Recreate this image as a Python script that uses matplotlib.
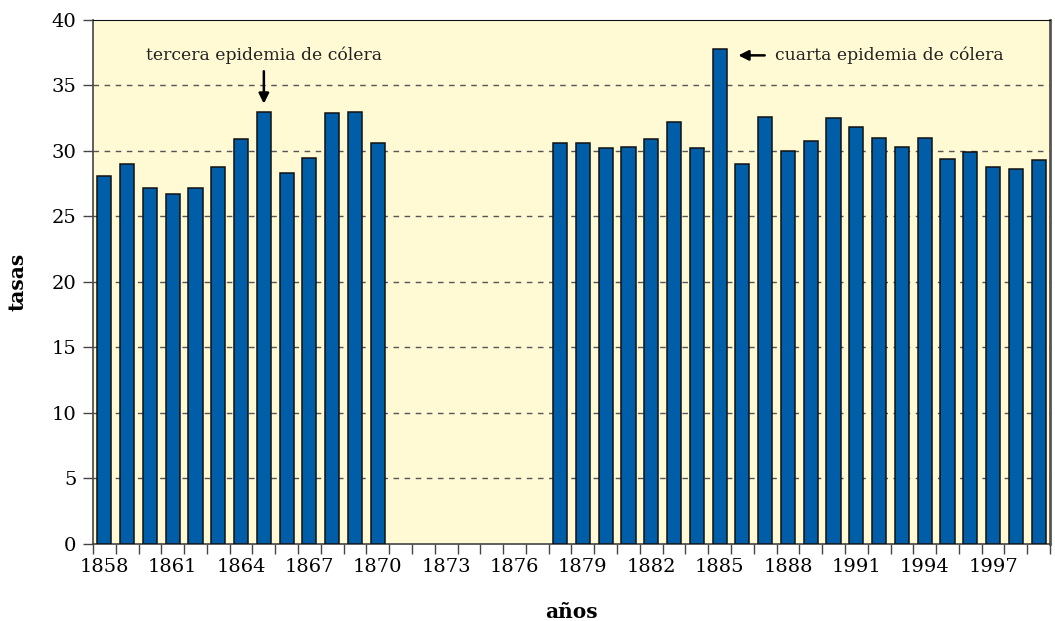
import matplotlib.pyplot as plt
import numpy as np

# datos: tasas por año (sin datos 1871-1877)
years = list(range(1858, 1900))
rates_a = [28.1, 29.0, 27.2, 26.7, 27.2, 28.8, 30.9, 33.0, 28.3, 29.5, 32.9, 33.0, 30.6]   # 1858-1870
rates_b = [30.6, 30.6, 30.2, 30.3, 30.9, 32.2, 30.2, 37.8, 29.0, 32.6, 30.0,
           30.8, 32.5, 31.8, 31.0, 30.3, 31.0, 29.4, 29.9, 28.8, 28.6, 29.3]             # 1878-1899
gap = [np.nan] * 7
rates = rates_a + gap + rates_b

# etiquetas cada 3 años (tal como aparecen en el original)
xlabels = ['1858', '1861', '1864', '1867', '1870', '1873', '1876', '1879',
           '1882', '1885', '1888', '1991', '1994', '1997']
yticks = [0, 5, 10, 15, 20, 25, 30, 35, 40]

serif = 'DejaVu Serif'
fig = plt.figure(figsize=(10.55, 6.21), dpi=100)
ax = fig.add_axes([0.0881, 0.124, 0.9072, 0.8438])
ax.set_facecolor('#fff9d4')

x = np.arange(len(years))
ax.bar(x, rates, width=0.62, color='#005ea8', edgecolor='#111111', linewidth=1.1, zorder=3)

ax.set_xlim(-0.5, len(years) - 0.5)
ax.set_ylim(0, 40)

# lineas de rejilla discontinuas
for v in yticks[1:-1]:
    ax.axhline(v, color='#555555', linestyle=(0, (4, 4)), linewidth=1, zorder=1)

ax.set_yticks(yticks)
ax.set_yticklabels([str(v) for v in yticks], fontsize=14, family=serif)
ax.tick_params(axis='y', length=7, width=1, color='#444444', pad=5)

# ticks entre barras, etiquetas centradas cada 3 años
ax.set_xticks(np.arange(-0.5, len(years), 1))
ax.set_xticklabels([])
ax.tick_params(axis='x', which='major', length=7, width=1, color='#444444')
ax.set_xticks(np.arange(len(xlabels)) * 3, minor=True)
ax.set_xticklabels(xlabels, minor=True, fontsize=14, family=serif)
ax.tick_params(axis='x', which='minor', length=0, pad=10)

for s in ['left', 'bottom']:
    ax.spines[s].set_color('#444444')
    ax.spines[s].set_linewidth(1.2)
ax.spines['top'].set_color('#111111')
ax.spines['right'].set_color('#555555')
ax.spines['right'].set_linewidth(2)

ax.set_ylabel('tasas', fontsize=14.5, fontweight='bold', family=serif, labelpad=17)
ax.set_xlabel('años', fontsize=14.5, fontweight='bold', family=serif, labelpad=19)

# anotaciones
ax.text(7, 37.3, 'tercera epidemia de cólera', ha='center', va='center', fontsize=12.4,
        family=serif, color='#222222')
ax.annotate('', xy=(7, 33.4), xytext=(7, 36.3),
            arrowprops=dict(arrowstyle='-|>', color='black', lw=1.8, mutation_scale=15))
ax.annotate('', xy=(27.7, 37.3), xytext=(29.1, 37.3),
            arrowprops=dict(arrowstyle='-|>', color='black', lw=1.8, mutation_scale=15))
ax.text(29.45, 37.3, 'cuarta epidemia de cólera', ha='left', va='center', fontsize=12.4,
        family=serif, color='#222222')

fig.savefig('out.png', dpi=100)
